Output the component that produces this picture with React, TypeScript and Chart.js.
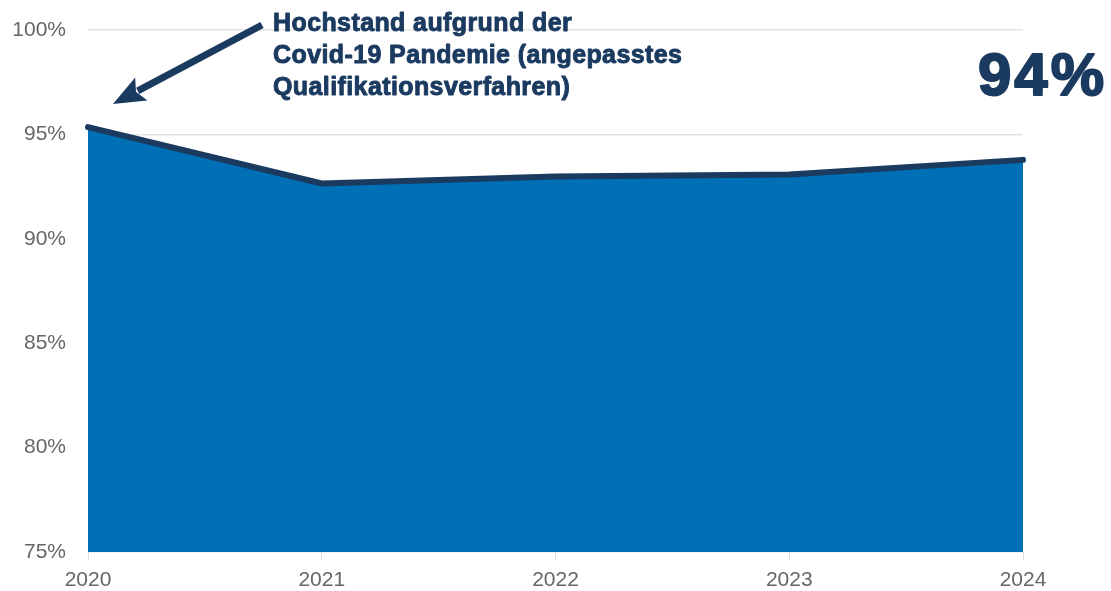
import React, { useEffect, useRef } from "react";
import { Chart, registerables } from "chart.js";

Chart.register(...registerables);

const years = ["2020", "2021", "2022", "2023", "2024"];
const quote = [95.35, 92.65, 92.98, 93.08, 93.78];
const yTicks = [75, 80, 85, 90, 95, 100];
const noteLines = [
  "Hochstand aufgrund der",
  "Covid-19 Pandemie (angepasstes",
  "Qualifikationsverfahren)",
];
const headline = "94%";

const NAVY = "#1a3a60";
const FILL = "#0070b6";
const TICK = "#666666";

const annotationPlugin = {
  id: "annotations",
  afterDraw(chart: any) {
    const ctx = chart.ctx as CanvasRenderingContext2D;
    ctx.save();
    // arrow
    const x0 = 262, y0 = 25, x1 = 113, y1 = 104;
    const ang = Math.atan2(y1 - y0, x1 - x0);
    const headLen = 32, headW = 13;
    const bx = x1 - headLen * Math.cos(ang);
    const by = y1 - headLen * Math.sin(ang);
    ctx.strokeStyle = NAVY;
    ctx.fillStyle = NAVY;
    ctx.lineWidth = 7;
    ctx.lineCap = "butt";
    ctx.beginPath();
    ctx.moveTo(x0, y0);
    ctx.lineTo(bx + 4 * Math.cos(ang), by + 4 * Math.sin(ang));
    ctx.stroke();
    ctx.beginPath();
    ctx.moveTo(x1, y1);
    ctx.lineTo(bx + headW * Math.sin(ang), by - headW * Math.cos(ang));
    ctx.lineTo(bx + 6 * Math.cos(ang), by + 6 * Math.sin(ang));
    ctx.lineTo(bx - headW * Math.sin(ang), by + headW * Math.cos(ang));
    ctx.closePath();
    ctx.fill();
    // note text
    ctx.font = "bold 25px 'Liberation Sans', Arial, sans-serif";
    (ctx as any).letterSpacing = "0.4px";
    ctx.textAlign = "left";
    ctx.textBaseline = "alphabetic";
    ctx.lineWidth = 0.9;
    ctx.lineJoin = "round";
    noteLines.forEach((l, i) => {
      ctx.fillText(l, 273, 31 + i * 32);
      ctx.strokeText(l, 273, 31 + i * 32);
    });
    // headline
    ctx.font = "bold 60px 'Liberation Sans', Arial, sans-serif";
    (ctx as any).letterSpacing = "3px";
    ctx.textAlign = "right";
    ctx.lineWidth = 2;
    ctx.fillText(headline, 1107, 95);
    ctx.strokeText(headline, 1107, 95);
    ctx.restore();
  },
};

export default function App() {
  const ref = useRef<HTMLCanvasElement>(null);
  useEffect(() => {
    const chart = new Chart(ref.current!, {
      type: "line",
      data: {
        labels: years,
        datasets: [
          {
            data: quote,
            borderColor: NAVY,
            backgroundColor: FILL,
            borderWidth: 6,
            borderCapStyle: "round",
            borderJoinStyle: "round",
            fill: "start",
            tension: 0,
            pointRadius: 0,
            clip: false as any,
          },
        ],
      },
      options: {
        animation: false,
        responsive: true,
        maintainAspectRatio: false,
        layout: { padding: { top: 30, right: 88, left: 0, bottom: 0 } },
        plugins: { legend: { display: false }, tooltip: { enabled: false } },
        scales: {
          x: {
            grid: {
              drawOnChartArea: false,
              drawTicks: true,
              tickLength: 8,
              color: "#dddddd",
            },
            border: { display: false },
            ticks: {
              color: TICK,
              padding: 8,
              maxRotation: 0,
              font: { size: 21, family: "'Liberation Sans', Arial, sans-serif" },
            },
            afterFit: (s: any) => {
              s.height = 39;
            },
          },
          y: {
            min: 75,
            max: 100,
            afterBuildTicks: (s: any) => {
              s.ticks = yTicks.map((v) => ({ value: v }));
            },
            grid: { color: "#e3e3e3", drawTicks: false, lineWidth: 1.5 },
            border: { display: false },
            ticks: {
              color: TICK,
              padding: 22,
              callback: (v: any) => v + "%",
              font: { size: 21, family: "'Liberation Sans', Arial, sans-serif" },
            },
            afterFit: (s: any) => {
              s.width = 88;
              s.paddingTop = 0;
              s.paddingBottom = 0;
            },
          },
        },
      },
      plugins: [annotationPlugin],
    });
    return () => chart.destroy();
  }, []);
  return (
    <div style={{ position: "absolute", left: 0, top: 0, width: 1111, height: 591, background: "#fff" }}>
      <canvas ref={ref} />
    </div>
  );
}
